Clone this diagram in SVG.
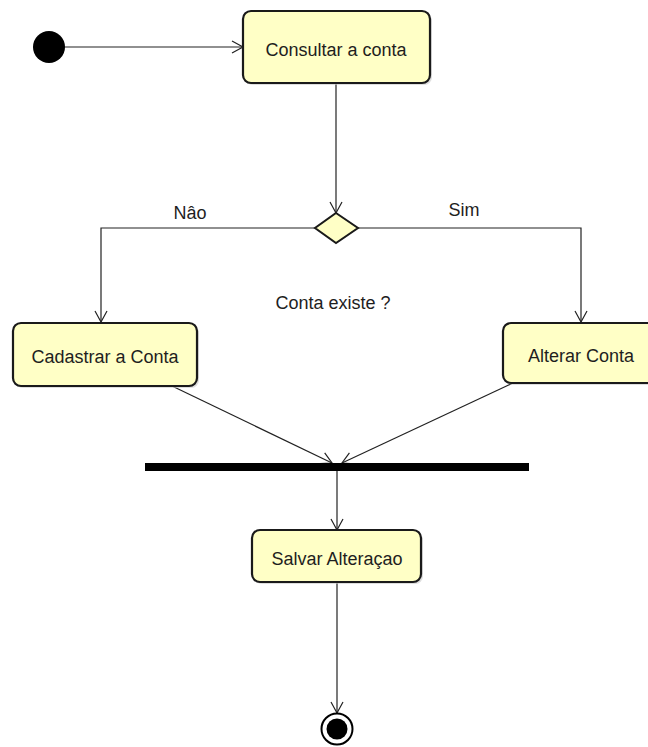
<svg xmlns="http://www.w3.org/2000/svg" width="648" height="747" viewBox="0 0 648 747">
<style>
.act{fill:#ffffc6;stroke:#1a1a1a;stroke-width:2.2}
.sh{fill:#c8c8c8;opacity:0.6}
.lbl{font-family:"Liberation Sans",Arial,sans-serif;font-size:18px;fill:#1e1e1e;text-anchor:middle}
.con{fill:none;stroke:#222;stroke-width:1.2}
</style>
<defs>
<marker id="arr" markerUnits="userSpaceOnUse" markerWidth="14" markerHeight="14" viewBox="0 0 14 14" refX="12" refY="7" orient="auto">
<path d="M1,1 L12,7 L1,13" fill="none" stroke="#222" stroke-width="1.2"/>
</marker>
</defs>
<rect width="648" height="747" fill="#ffffff"/>
<g id="connectors">
<path class="con" d="M65,47 L243,47" marker-end="url(#arr)"/>
<path class="con" d="M336,84 L336,213" marker-end="url(#arr)"/>
<path class="con" d="M315,228 L101,228 L101,322" marker-end="url(#arr)"/>
<path class="con" d="M358,228 L581,228 L581,322" marker-end="url(#arr)"/>
<path class="con" d="M172,386 L332,463" marker-end="url(#arr)"/>
<path class="con" d="M513,383 L342,463" marker-end="url(#arr)"/>
<path class="con" d="M337,471 L337,530" marker-end="url(#arr)"/>
<path class="con" d="M337,583 L337,713" marker-end="url(#arr)"/>
<text class="lbl" x="190" y="219">Nâo</text>
<text class="lbl" x="464" y="216">Sim</text>
<text class="lbl" x="333" y="309">Conta existe ?</text>
</g>
<g id="start">
<circle cx="49" cy="47" r="16" fill="#000"/>
</g>
<g id="consultar">
<rect class="sh" x="245" y="13" width="187" height="72" rx="8"/>
<rect class="act" x="243" y="11" width="187" height="72" rx="8"/>
<text class="lbl" x="336" y="55.5">Consultar a conta</text>
</g>
<g id="decision">
<polygon points="336,213 358,228 336,243 315,228" fill="#ffffc6" stroke="#1a1a1a" stroke-width="2"/>
</g>
<g id="cadastrar">
<rect class="sh" x="15" y="325" width="184" height="63" rx="8"/>
<rect class="act" x="13" y="323" width="184" height="63" rx="8"/>
<text class="lbl" x="105" y="363">Cadastrar a Conta</text>
</g>
<g id="alterar">
<rect class="sh" x="505" y="325" width="160" height="60" rx="8"/>
<rect class="act" x="503" y="323" width="160" height="60" rx="8"/>
<text class="lbl" x="581" y="361.5">Alterar Conta</text>
</g>
<g id="join">
<rect x="145" y="463" width="384" height="8" fill="#000"/>
</g>
<g id="salvar">
<rect class="sh" x="254" y="532" width="169" height="52" rx="8"/>
<rect class="act" x="252" y="530" width="169" height="52" rx="8"/>
<text class="lbl" x="337" y="564.5">Salvar Alteraçao</text>
</g>
<g id="end">
<circle cx="337" cy="729" r="15.5" fill="#fff" stroke="#000" stroke-width="2"/>
<circle cx="337" cy="729" r="10.5" fill="#000"/>
</g>
</svg>
